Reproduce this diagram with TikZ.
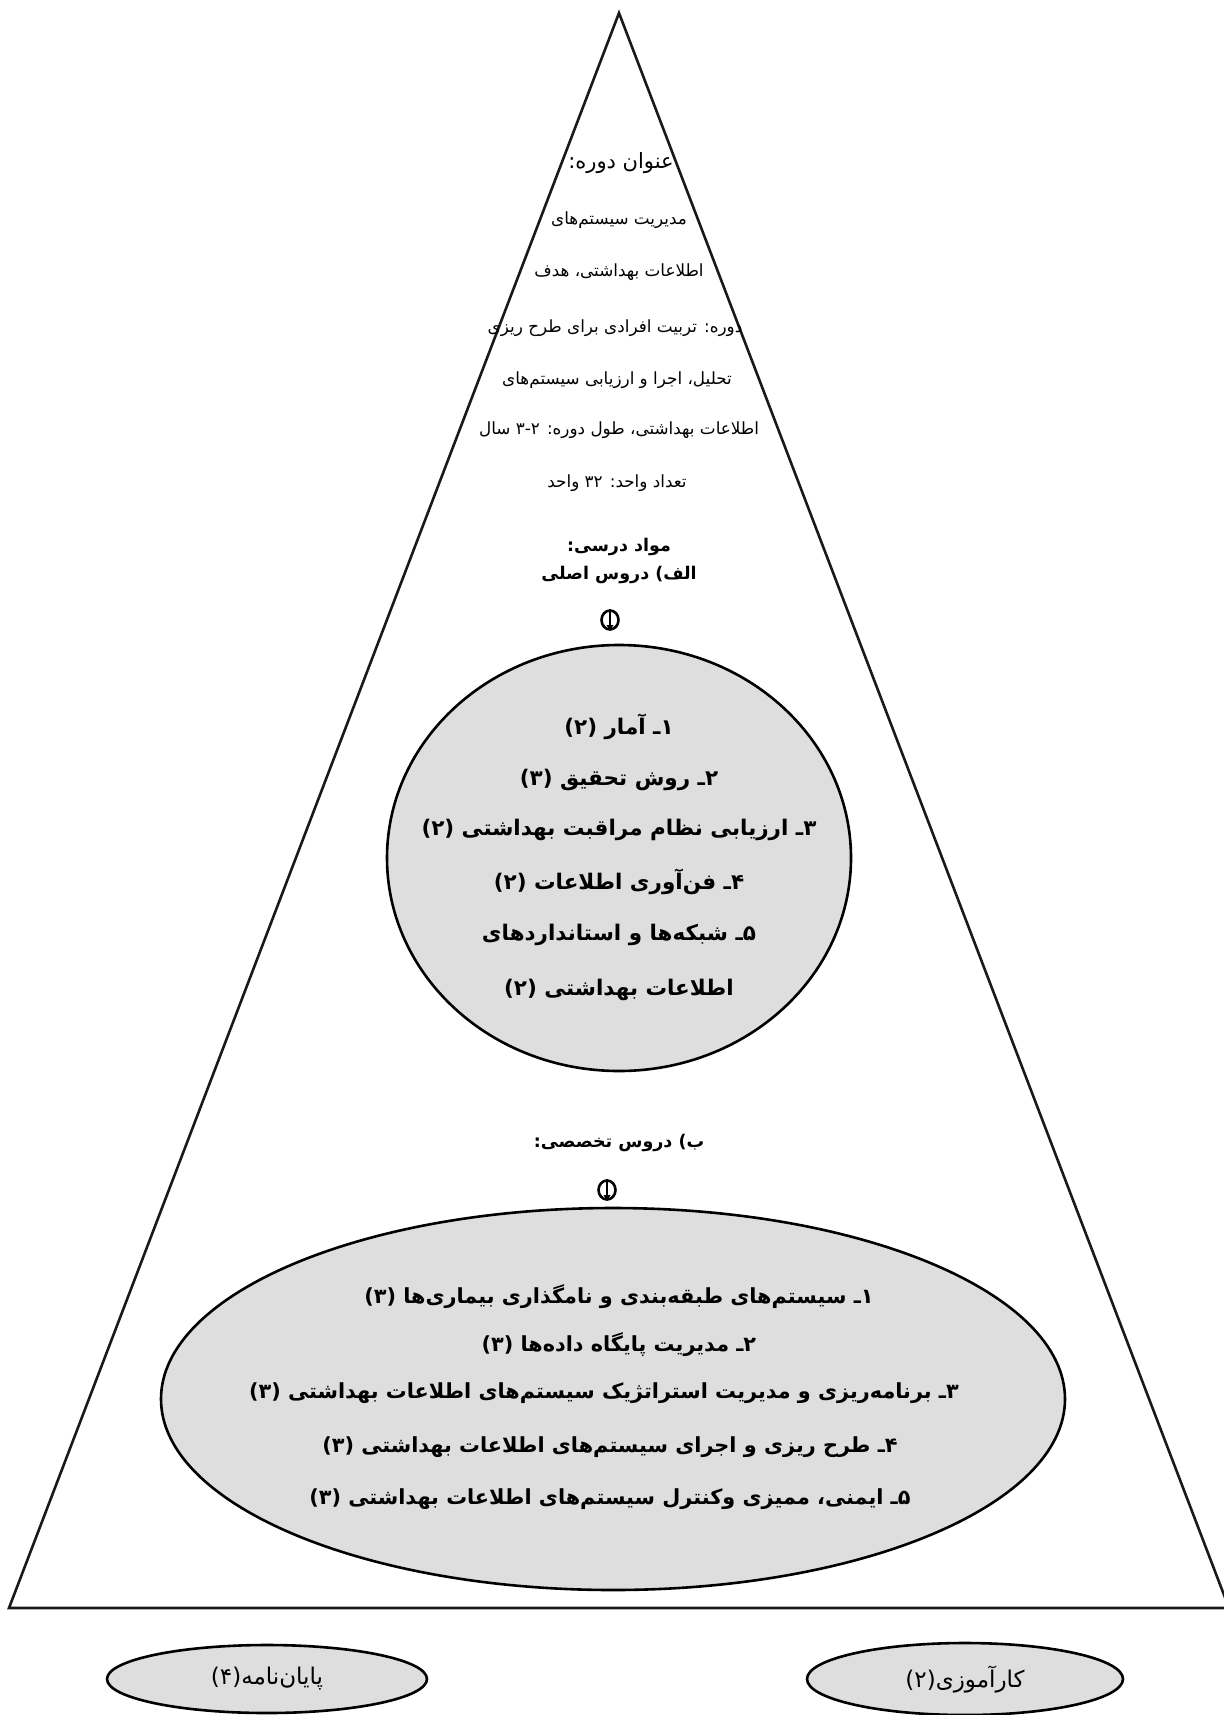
\documentclass[tikz,border=0pt]{standalone}
\usepackage{fontspec}
\usetikzlibrary{shapes.geometric}
\TeXXeTstate=1
\newfontfamily\fa[Script=Arabic]{DejaVu Sans}
\newcommand\rtl[1]{\beginR #1\endR}
\definecolor{stipple}{gray}{0.87}
\tikzset{
  outline/.style={line width=2.6pt, draw=black!90},
  topline/.style={inner sep=0pt, font=\fa\fontsize{16.8}{19}\selectfont},
  headline/.style={inner sep=0pt, font=\fa\bfseries\fontsize{17.5}{20}\selectfont},
  circline/.style={inner sep=0pt, font=\fa\bfseries\fontsize{21.5}{24}\selectfont},
  ellline/.style={inner sep=0pt, font=\fa\bfseries\fontsize{20.8}{24}\selectfont},
  smalltext/.style={font=\fa\fontsize{23}{26}\selectfont},
  blob/.style={ellipse, draw=black, line width=2.6pt, fill=stipple, inner sep=0pt},
  downmark/.pic={
    \draw[line width=2.6pt] (0,-1) ellipse (8.5 and 9.5);
    \draw[line width=2.8pt] (0,-12) -- (0,6);
    \fill (-3.5,4) -- (3.5,4) -- (0,10) -- cycle;
  }
}
\begin{document}
\begin{tikzpicture}[x=1pt,y=-1pt]
\useasboundingbox[fill=white] (0,0) rectangle (1223,1715);
% pyramid
\coordinate (apex) at (619,13);
\coordinate (bl) at (9,1608);
\coordinate (br) at (1229,1608);
\draw[outline, line join=miter] (bl) -- (apex) -- (br) -- cycle;

% header text
\node[topline, font=\fa\fontsize{21}{24}\selectfont] (title) at (621,163) {\rtl{عنوان دوره:}};
\node[topline] (l2) at (619,220) {\rtl{مدیریت سیستم‌های}};
\node[topline] (l3) at (619,272) {\rtl{اطلاعات بهداشتی، هدف}};
\node[topline] (l4) at (615,328) {\rtl{دوره: تربیت افرادی برای طرح ریزی}};
\node[topline] (l5) at (617,380) {\rtl{تحلیل، اجرا و ارزیابی سیستم‌های}};
\node[topline] (l6) at (619,430) {\rtl{اطلاعات بهداشتی، طول دوره: ۳-۲ سال}};
\node[topline] (l7) at (617,483) {\rtl{تعداد واحد: ۳۲ واحد}};
\node[headline] (mawad) at (619,547) {\rtl{مواد درسی:}};
\node[headline] (alef) at (619,575) {\rtl{الف) دروس اصلی}};
\pic at (610,621) {downmark};

% core courses circle
\node[blob, minimum width=464pt, minimum height=426pt] (core) at (619,858) {};
\node[circline] (c1) at (619,727) {\rtl{۱ـ آمار (۲)}};
\node[circline] (c2) at (619,780) {\rtl{۲ـ روش تحقیق (۳)}};
\node[circline] (c3) at (619,830) {\rtl{۳ـ ارزیابی نظام مراقبت بهداشتی (۲)}};
\node[circline] (c4) at (619,882) {\rtl{۴ـ فن‌آوری اطلاعات (۲)}};
\node[circline] (c5) at (619,935) {\rtl{۵ـ شبکه‌ها و استانداردهای}};
\node[circline] (c6) at (619,990) {\rtl{اطلاعات بهداشتی (۲)}};

% specialised courses
\node[headline] (be) at (619,1143) {\rtl{ب) دروس تخصصی:}};
\pic at (607,1191) {downmark};
\node[blob, minimum width=904pt, minimum height=382pt] (spec) at (613,1399) {};
\node[ellline] (s1) at (619,1297) {\rtl{۱ـ سیستم‌های طبقه‌بندی و نامگذاری بیماری‌ها (۳)}};
\node[ellline] (s2) at (619,1345) {\rtl{۲ـ مدیریت پایگاه داده‌ها (۳)}};
\node[ellline] (s3) at (604,1393) {\rtl{۳ـ برنامه‌ریزی و مدیریت استراتژیک سیستم‌های اطلاعات بهداشتی (۳)}};
\node[ellline] (s4) at (610,1447) {\rtl{۴ـ طرح ریزی و اجرای سیستم‌های اطلاعات بهداشتی (۳)}};
\node[ellline] (s5) at (610,1499) {\rtl{۵ـ ایمنی، ممیزی وکنترل سیستم‌های اطلاعات بهداشتی (۳)}};

% bottom ellipses
\node[blob, smalltext, minimum width=320pt, minimum height=68pt] (thesis) at (267,1679) {\rtl{پایان‌نامه(۴)}};
\node[blob, smalltext, minimum width=316pt, minimum height=72pt] (intern) at (965,1679) {\rtl{کارآموزی(۲)}};
\end{tikzpicture}
\end{document}
